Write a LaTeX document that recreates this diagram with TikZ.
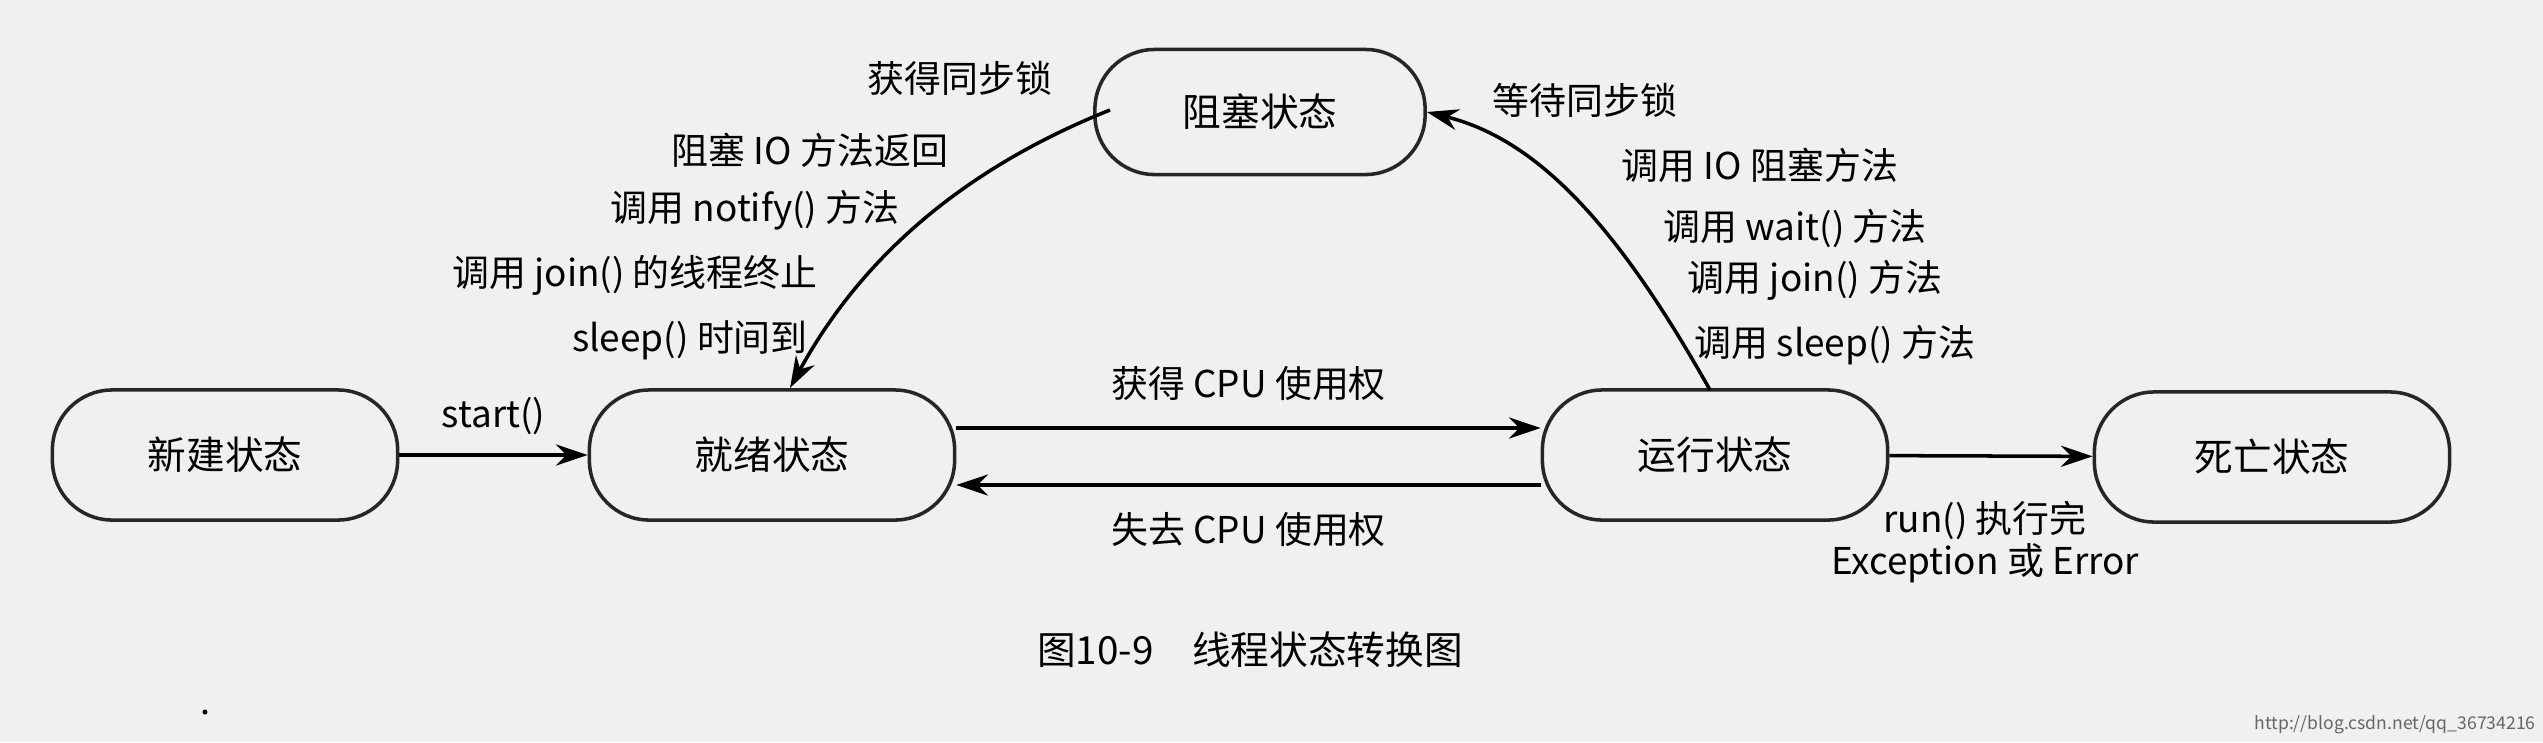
\documentclass[tikz,border=0pt]{standalone}
\usepackage{fontspec}
\setmainfont{Noto Sans CJK SC}
\usetikzlibrary{arrows.meta}
\begin{document}
\begin{tikzpicture}[x=0.01cm,y=-0.01cm,
  st/.style={draw=black!85,line width=1pt,rounded corners=17pt,minimum width=3.45cm,minimum height=1.3cm,font=\fontsize{11}{13}\selectfont},
  lb/.style={font=\fontsize{10.5}{12}\selectfont},
  ar/.style={line width=1pt,-{Stealth[length=9pt,width=6pt]}}]
\fill[black!6] (0,0) rectangle (2543,742);
\useasboundingbox (0,0) rectangle (2543,742);
\node[st] (new) at (225,455) {新建状态};
\node[st,minimum width=3.65cm] (ready) at (772,455) {就绪状态};
\node[st] (run) at (1715,455) {运行状态};
\node[st,minimum width=3.55cm] (dead) at (2272,457) {死亡状态};
\node[st,minimum width=3.3cm,minimum height=1.25cm] (block) at (1260,112) {阻塞状态};
\draw[ar] (new) -- (ready) node[lb,midway,above=2pt] {start()};
\draw[ar] (ready.east |- 0,428) -- (run.west |- 0,428) node[lb,midway,above=4pt] {获得 CPU 使用权};
\draw[ar] (run.west |- 0,485) -- (ready.east |- 0,485) node[lb,midway,below=4pt] {失去 CPU 使用权};
\draw[ar] (run) -- (dead);
\node[lb,align=center] (dl) at (1985,542) {run() 执行完\\Exception 或 Error};
\draw[ar] (1710,390) .. controls (1620,230) and (1540,140) .. (block.east);
\draw[ar] (1110,110) .. controls (960,170) and (860,260) .. (790,388);
\node[lb] (a1) at (1585,100) {等待同步锁};
\node[lb] (a2) at (1760,165) {调用 IO 阻塞方法};
\node[lb] (a3) at (1795,228) {调用 wait() 方法};
\node[lb] (a4) at (1815,280) {调用 join() 方法};
\node[lb] (a5) at (1835,345) {调用 sleep() 方法};
\node[lb] (b1) at (960,78) {获得同步锁};
\node[lb] (b2) at (810,150) {阻塞 IO 方法返回};
\node[lb] (b3) at (755,210) {调用 notify() 方法};
\node[lb] (b4) at (635,275) {调用 join() 的线程终止};
\node[lb] (b5) at (690,340) {sleep() 时间到};
\node[font=\fontsize{11}{12}\selectfont] (cap) at (1250,650) {图10-9\quad 线程状态转换图};
\fill (205,712) circle (2.5);
\node[font=\fontsize{5}{6}\selectfont,text=black!60] (wm) at (2395,725) {http://blog.csdn.net/qq\_36734216};
\end{tikzpicture}
\end{document}
